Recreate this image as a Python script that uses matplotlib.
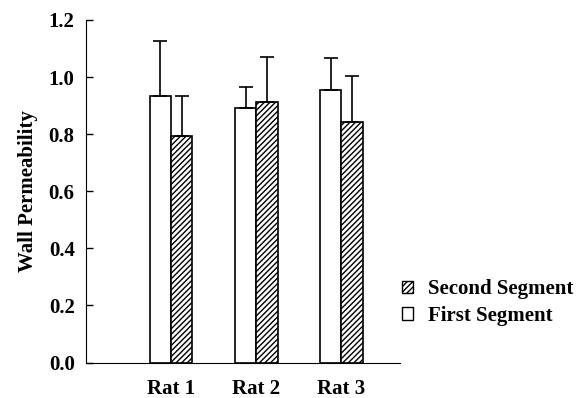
"""Wall permeability per rat, first vs second segment."""

import matplotlib
matplotlib.use("Agg")
import matplotlib.pyplot as plt
from matplotlib.patches import Patch
import numpy as np

rats = ["Rat 1", "Rat 2", "Rat 3"]
first_mean = [0.935, 0.89, 0.955]
first_err = [0.19, 0.075, 0.11]
second_mean = [0.795, 0.912, 0.843]
second_err = [0.138, 0.157, 0.16]
yticks = [0.0, 0.2, 0.4, 0.6, 0.8, 1.0, 1.2]

plt.rcParams["font.family"] = "Liberation Serif"
plt.rcParams["font.weight"] = "bold"
plt.rcParams["hatch.linewidth"] = 1.0

fig = plt.figure(figsize=(5.8, 3.98), dpi=100)
ax = fig.add_axes([0.148, 0.089, 0.542, 0.861])

x = np.arange(1, len(rats) + 1)
w = 0.25
ax.bar(x - w / 2, first_mean, w, color="white", edgecolor="black", linewidth=1.2,
       yerr=[np.zeros(3), first_err], error_kw=dict(ecolor="black", elinewidth=1.2,
                                                     capsize=5, capthick=1.2))
ax.bar(x + w / 2, second_mean, w, color="white", edgecolor="black", linewidth=1.2,
       hatch="//////",
       yerr=[np.zeros(3), second_err], error_kw=dict(ecolor="black", elinewidth=1.2,
                                                      capsize=5, capthick=1.2))

ax.set_xlim(0, 3.69)
ax.set_ylim(0, 1.2)
ax.set_yticks(yticks)
ax.set_yticklabels([f"{v:.1f}" for v in yticks], fontsize=15, fontweight="bold")
ax.set_xticks(x)
ax.set_xticklabels(rats, fontsize=15, fontweight="bold")
ax.tick_params(axis="y", direction="in", length=5, width=1, pad=8)
ax.tick_params(axis="x", length=0, pad=12)
ax.spines["top"].set_visible(False)
ax.spines["right"].set_visible(False)
ax.set_ylabel("Wall Permeability", fontsize=15, fontweight="bold", labelpad=8)

handles = [Patch(facecolor="white", edgecolor="black", hatch="//////"),
           Patch(facecolor="white", edgecolor="black")]
fig.legend(handles, ["Second Segment", "First Segment"], loc="upper left",
           bbox_to_anchor=(0.66, 0.345), frameon=False, handlelength=0.55,
           handleheight=0.55, handletextpad=0.7, labelspacing=0.3,
           prop=dict(family="Liberation Serif", weight="bold", size=15))

fig.savefig("out.png", dpi=100)
